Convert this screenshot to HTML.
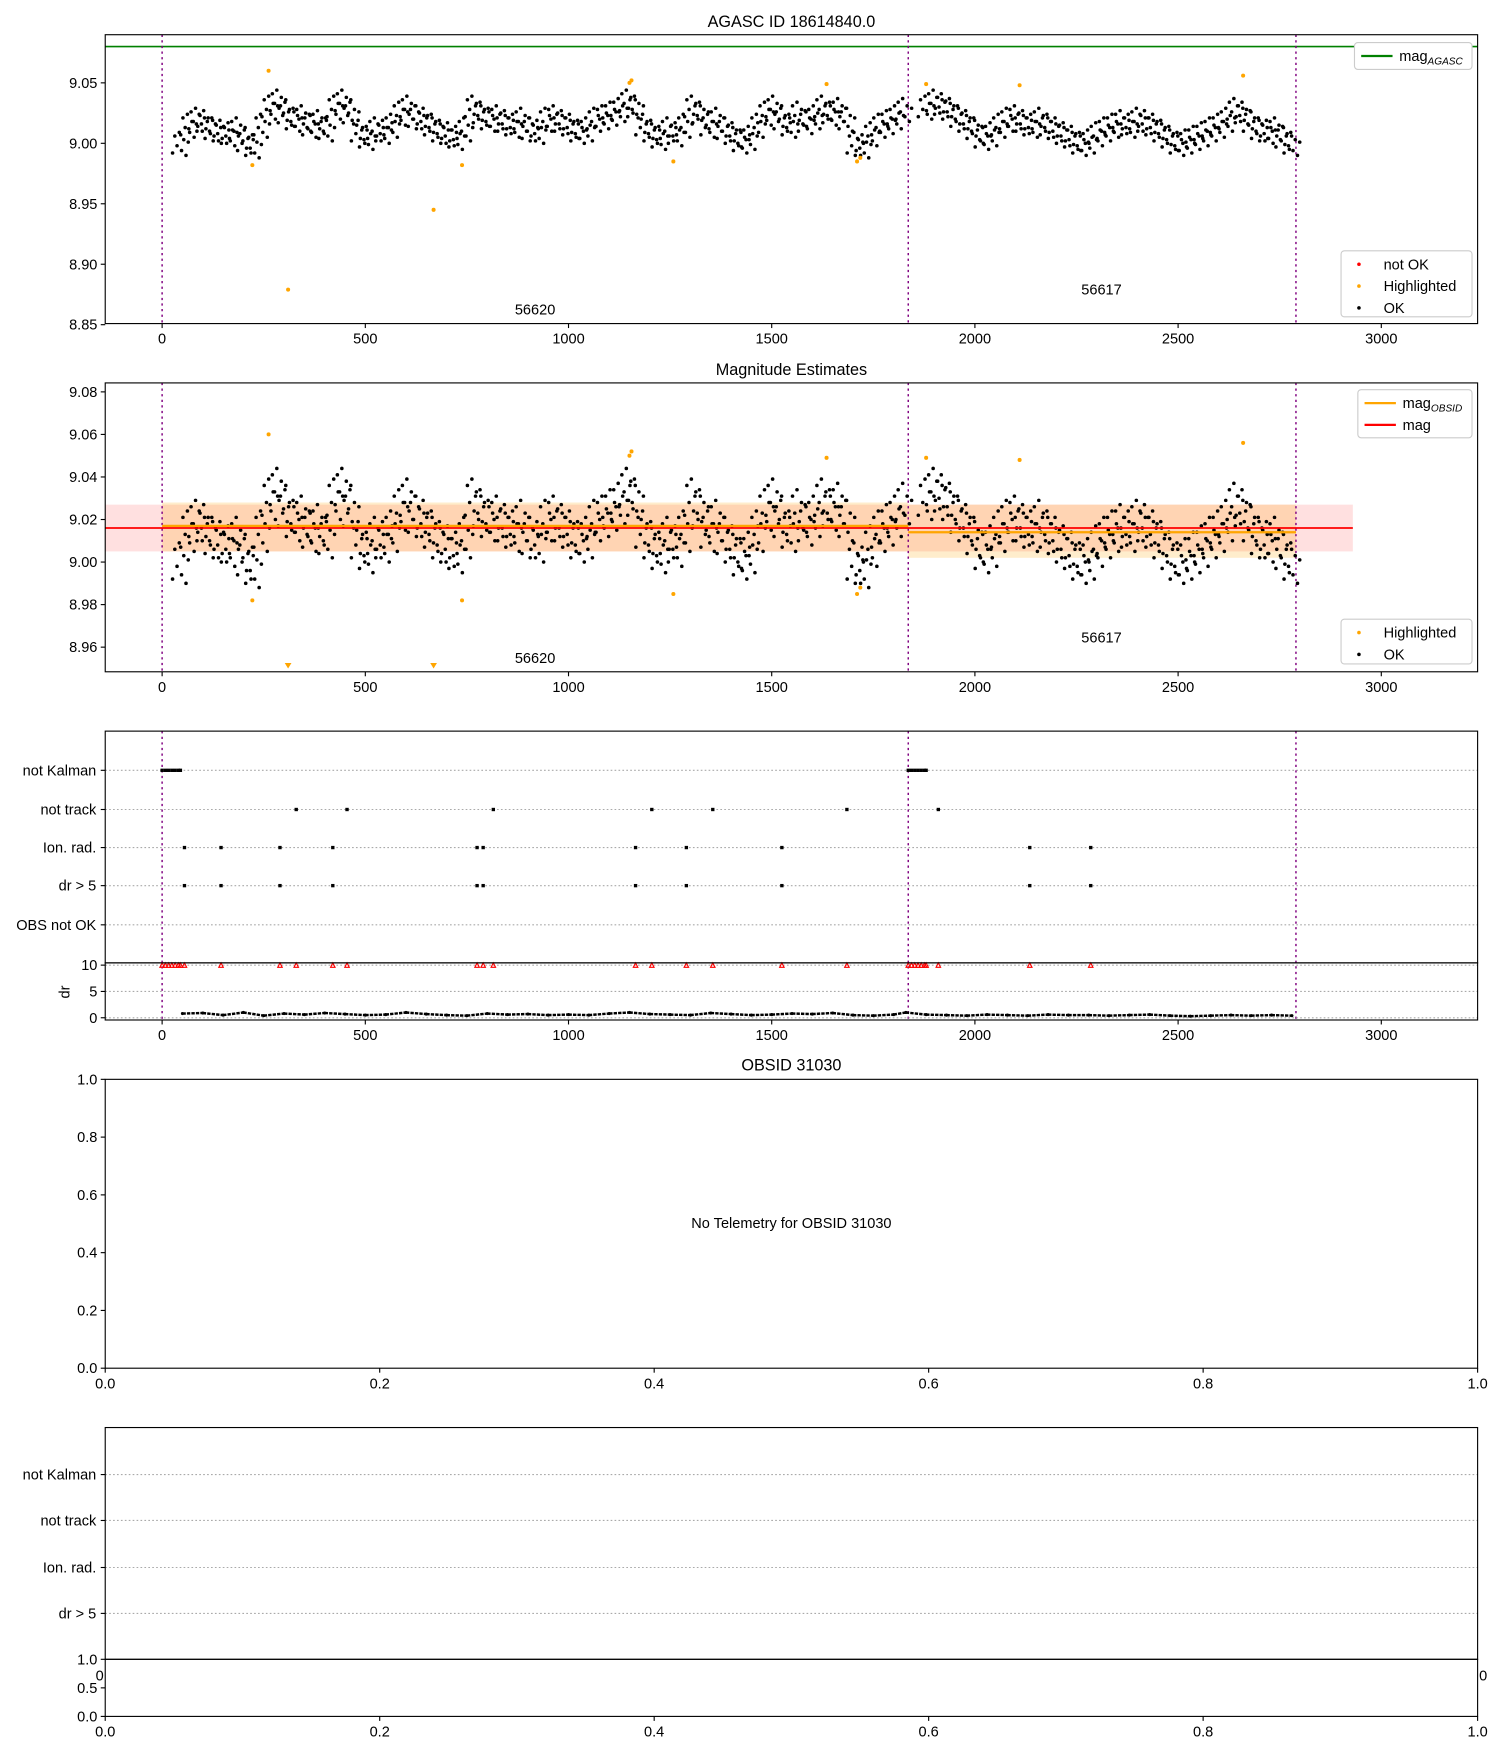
<!DOCTYPE html>
<html><head><meta charset="utf-8"><style>
html,body{margin:0;padding:0;background:#fff}
svg{display:block;font-family:"Liberation Sans","DejaVu Sans",sans-serif}
</style></head><body>
<svg id="chart" xmlns="http://www.w3.org/2000/svg" width="1500" height="1750" viewBox="0 0 1340 1563" preserveAspectRatio="none"></svg>
<script>
// ---- data ----
const obs1X = [45,65,85,105,125,145,165,185,205,225,245,265,285,305,325,345,365,385,405,425,445,465,485,505,525,545,565,585,605,625,645,665,685,705,725,745,765,785,805,825,845,865,885,905,925,945,965,985,1005,1025,1045,1065,1085,1105,1125,1145,1165,1185,1205,1225,1245,1265,1285,1305,1325,1345,1365,1385,1405,1425,1445,1465,1485,1505,1525,1545,1565,1585,1605,1625,1645,1665,1685,1705,1725,1745,1765,1785,1805,1825];
const obs1Mag = [9.000,9.015,9.020,9.018,9.012,9.010,9.008,9.012,9.002,8.998,9.015,9.030,9.035,9.025,9.020,9.022,9.015,9.018,9.012,9.030,9.035,9.025,9.010,9.005,9.012,9.010,9.015,9.025,9.030,9.022,9.020,9.015,9.010,9.008,9.005,9.012,9.030,9.025,9.020,9.022,9.018,9.015,9.020,9.012,9.010,9.020,9.022,9.018,9.015,9.010,9.012,9.020,9.022,9.025,9.028,9.035,9.030,9.015,9.010,9.005,9.012,9.008,9.015,9.030,9.025,9.015,9.020,9.012,9.008,9.002,9.005,9.015,9.025,9.030,9.020,9.015,9.025,9.018,9.022,9.030,9.025,9.028,9.020,9.000,8.998,9.008,9.015,9.018,9.022,9.028];
const obs2X = [1880,1900,1920,1940,1960,1980,2000,2020,2040,2060,2080,2100,2120,2140,2160,2180,2200,2220,2240,2260,2280,2300,2320,2340,2360,2380,2400,2420,2440,2460,2480,2500,2520,2540,2560,2580,2600,2620,2640,2660,2680,2700,2720,2740,2760,2780];
const obs2Mag = [9.030,9.035,9.032,9.028,9.022,9.018,9.012,9.005,9.008,9.015,9.020,9.022,9.018,9.015,9.020,9.015,9.012,9.008,9.005,9.000,9.002,9.008,9.012,9.015,9.018,9.015,9.020,9.018,9.015,9.010,9.005,9.000,9.002,9.005,9.008,9.012,9.015,9.020,9.028,9.025,9.018,9.012,9.010,9.012,9.005,9.000];
const hlX = [262,222,310,668,738,1150,1155,1258,1635,1710,1718,1880,2110,2660];
const hlMag = [9.060,8.982,8.879,8.945,8.982,9.050,9.052,8.985,9.049,8.985,8.988,9.049,9.048,9.056];
const obsStarts = [0,1836];
const obsEnds = [1836,2790];
const obsIds = ["56620","56617"];
const obsMean = [9.017,9.014];
const obsLo = [9.005,9.002];
const obsHi = [9.028,9.027];
const magAgasc = 9.08;
const magAll = 9.016, magAllLo = 9.005, magAllHi = 9.027;
const notKalmanX = [0,8,16,24,32,40,45,1836,1844,1852,1860,1868,1876,1880];
const notTrackX = [330,455,815,1205,1355,1685,1910];
const ionRadX = [55,145,290,420,775,790,1165,1290,1525,2135,2285];
const drX = [50,100,150,200,250,300,350,400,450,500,550,600,650,700,750,800,850,900,950,1000,1050,1100,1150,1200,1250,1300,1350,1400,1450,1500,1550,1600,1650,1700,1750,1800,1830,1880,1930,1980,2030,2080,2130,2180,2230,2280,2330,2380,2430,2480,2530,2580,2630,2680,2730,2780];
const drVal = [0.8,0.9,0.5,1.0,0.4,0.8,0.6,0.9,0.7,0.5,0.6,1.0,0.7,0.5,0.4,0.8,0.6,0.7,0.5,0.6,0.5,0.8,1.0,0.7,0.6,0.5,0.9,0.7,0.5,0.6,0.8,0.7,0.9,0.5,0.4,0.6,1.0,0.6,0.5,0.4,0.6,0.5,0.4,0.6,0.5,0.5,0.4,0.5,0.6,0.4,0.3,0.4,0.5,0.4,0.5,0.4];
const xTicks = [0,500,1000,1500,2000,2500,3000];
const unitTicks = [0,0.2,0.4,0.6,0.8,1.0];
const flagRows = ["not Kalman","not track","Ion. rad.","dr > 5","OBS not OK"];

// ---- helpers ----
const NS = "http://www.w3.org/2000/svg";
const svg = document.getElementById("chart");
function el(tag, attrs, parent){const e=document.createElementNS(NS,tag);for(const k in attrs)e.setAttribute(k,attrs[k]);(parent||svg).appendChild(e);return e;}
function txt(s,x,y,anchor,size,parent){const t=el("text",{x:x,y:y,"text-anchor":anchor||"middle","font-size":size||13,fill:"#000"},parent);t.textContent=s;return t;}
const X0=94, X1=1320, XMIN=-140, XMAX=3237;
const sx = v => X0 + (v-XMIN)/(XMAX-XMIN)*(X1-X0);
function linY(v0,v1,p0,p1){return v => p0 + (v-v0)/(v1-v0)*(p1-p0);}
function frame(y0,y1,name){const r=el("rect",{x:X0,y:y0,width:X1-X0,height:y1-y0,fill:"none",stroke:"#000","stroke-width":1});return r;}
function xAxis(yb,name){const g=el("g",{});
  xTicks.forEach(t=>{el("line",{x1:sx(t),x2:sx(t),y1:yb,y2:yb+4,stroke:"#000"},g);txt(String(t),sx(t),yb+18,"middle",13,g);});}
function yAxis(ticks,sy,labels,name){const g=el("g",{});
  ticks.forEach((t,i)=>{el("line",{x1:X0-4,x2:X0,y1:sy(t),y2:sy(t),stroke:"#000"},g);txt(labels[i],X0-7,sy(t)+4.5,"end",13,g);});}
function vlines(y0,y1){const g=el("g",{});
  [obsStarts[0],obsStarts[1],obsEnds[1]].forEach(v=>el("line",{x1:sx(v),x2:sx(v),y1:y0,y2:y1,stroke:"#800080","stroke-width":1.3,"stroke-dasharray":"2,3"},g));}
const jdx=[-7,-5,-3,-1,1,3,5,7], jdm=[-0.008,0.006,-0.002,0.009,-0.006,0.003,-0.010,0.001];
function cloud(sy,g){
  [[obs1X,obs1Mag],[obs2X,obs2Mag]].forEach(([xs,ms])=>{xs.forEach((x,i)=>{jdx.forEach((d,k)=>{
    const c=el("circle",{cx:sx(x)+d,cy:sy(ms[i]+jdm[k]),r:1.6,fill:"#000"},g);
    });});});
}
function legend(x,y,w,h,items,name){const g=el("g",{});
  el("rect",{x:x,y:y,width:w,height:h,fill:"#fff",stroke:"#ccc",rx:3},g);
  items.forEach((it,i)=>{const yy=y+12+i*19.5;
    if(it.type==="line")el("line",{x1:x+6,x2:x+34,y1:yy,y2:yy,stroke:it.color,"stroke-width":2},g);
    else el("circle",{cx:x+16,cy:yy,r:1.6,fill:it.color},g);
    const t=txt("",x+(it.type==="line"?40:38),yy+4.5,"start",13,g);t.innerHTML=it.label;});}

// ---- Panel 1 ----
txt("AGASC ID 18614840.0",707,24,"middle",14.5);
const sy1 = linY(9.0,9.05,128,74);
el("line",{x1:X0,x2:X1,y1:sy1(magAgasc),y2:sy1(magAgasc),stroke:"#008000","stroke-width":1.5});
vlines(31,289);
const g1=el("g",{});
cloud(sy1,g1);
hlX.forEach((x,i)=>{const c=el("circle",{cx:sx(x),cy:sy1(hlMag[i]),r:1.8,fill:"orange"});});
txt(obsIds[0],478,281);
txt(obsIds[1],984,263);
frame(31,289,'agasc-axes');
yAxis([8.85,8.90,8.95,9.00,9.05],sy1,["8.85","8.90","8.95","9.00","9.05"],'y-axis-top');
xAxis(289,'x-axis-top');
legend(1210,38,105,24,[{type:"line",color:"#008000",label:'mag<tspan font-size="9" dy="3" font-style="italic">AGASC</tspan>'}],'legend-agasc');
legend(1198,224,117,59,[{type:"dot",color:"red",label:"not OK"},{type:"dot",color:"orange",label:"Highlighted"},{type:"dot",color:"#000",label:"OK"}],'legend-points-top');

// ---- Panel 2 ----
txt("Magnitude Estimates",707,335,"middle",14.5);
const sy2 = linY(9.0,9.02,502,464);
const bandAll=el("rect",{x:X0,y:sy2(magAllHi),width:sx(2930)-X0,height:sy2(magAllLo)-sy2(magAllHi),fill:"rgba(255,0,0,0.12)"});
obsStarts.forEach((s,i)=>{const r=el("rect",{x:sx(s),y:sy2(obsHi[i]),width:sx(obsEnds[i])-sx(s),height:sy2(obsLo[i])-sy2(obsHi[i]),fill:"rgba(255,165,0,0.2)"});});
vlines(342,600);
const g2=el("g",{});
cloud(sy2,g2);
hlX.forEach((x,i)=>{
  if(hlMag[i]<8.951){const y=sy2(8.951);const p=el("path",{d:`M${sx(x)-3},${y-3}L${sx(x)+3},${y-3}L${sx(x)},${y+2}Z`,fill:"orange"});}
  else{const c=el("circle",{cx:sx(x),cy:sy2(hlMag[i]),r:1.8,fill:"orange"});}});
obsStarts.forEach((s,i)=>{const l=el("line",{x1:sx(s),x2:sx(obsEnds[i]),y1:sy2(obsMean[i]),y2:sy2(obsMean[i]),stroke:"orange","stroke-width":2});});
el("line",{x1:X0,x2:sx(2930),y1:sy2(magAll),y2:sy2(magAll),stroke:"red","stroke-width":1.5});
txt(obsIds[0],478,592);
txt(obsIds[1],984,574);
frame(342,600,'magnitude-axes');
yAxis([8.96,8.98,9.00,9.02,9.04,9.06,9.08],sy2,["8.96","8.98","9.00","9.02","9.04","9.06","9.08"],'y-axis-mag');
xAxis(600,'x-axis-mag');
legend(1213,348,102,43,[{type:"line",color:"orange",label:'mag<tspan font-size="9" dy="3" font-style="italic">OBSID</tspan>'},{type:"line",color:"red",label:"mag"}],'legend-mag');
legend(1198,553,117,40,[{type:"dot",color:"orange",label:"Highlighted"},{type:"dot",color:"#000",label:"OK"}],'legend-points-mag');

// ---- Panel 3 (flags) ----
function flagPanel(y0,rowYs,labels,name){
  const g=el("g",{});
  rowYs.forEach((y,i)=>{el("line",{x1:X0,x2:X1,y1:y,y2:y,stroke:"#aaa","stroke-dasharray":"1.5,2"},g);el("line",{x1:X0-4,x2:X0,y1:y,y2:y,stroke:"#000"},g);txt(labels[i],X0-8,y+4.5,"end",13,g);});
  return g;}
const rows3=[688,723,757,791,826];
const gf=flagPanel(653,rows3,flagRows,'flags-panel');
vlines(653,911);
function flagMarks(xs,y,name){xs.forEach(x=>{const r=el("rect",{x:sx(x)-1.5,y:y-1.5,width:3,height:3,fill:"#000"});});}
flagMarks(notKalmanX,rows3[0],'not-kalman-mark');
flagMarks(notTrackX,rows3[1],'not-track-mark');
flagMarks(ionRadX,rows3[2],'ion-rad-mark');
flagMarks(ionRadX,rows3[3],'dr-gt-5-mark');
frame(653,860,'flags-axes');
const sy3=linY(0,10,909,862);
[0,5,10].forEach(t=>el("line",{x1:X0,x2:X1,y1:sy3(t),y2:sy3(t),stroke:"#aaa","stroke-dasharray":"1.5,2"}));
notKalmanX.concat(notTrackX,ionRadX).forEach(x=>{const r=el("path",{d:`M${sx(x)-2},${sy3(10)+2}L${sx(x)+2},${sy3(10)+2}L${sx(x)},${sy3(10)-2}Z`,fill:"none",stroke:"red","stroke-width":1});});
drX.forEach((x,i)=>{
  const d=el("circle",{cx:sx(x),cy:sy3(drVal[i]),r:1.4,fill:"#000"});
  if(i+1<drX.length && drX[i+1]-x<=60){const l=el("line",{x1:sx(x),y1:sy3(drVal[i]),x2:sx(drX[i+1]),y2:sy3(drVal[i+1]),stroke:"#000","stroke-width":2.2,"stroke-dasharray":"3,1"});}
});
frame(860,911,'dr-axes');
yAxis([0,5,10],sy3,["0","5","10"],'y-axis-dr');
const drl=txt("dr",0,0,"middle",13);drl.setAttribute("transform","translate(62,886) rotate(-90)");
xAxis(911,'x-axis-flags');

// ---- Panel 4 ----
txt("OBSID 31030",707,956,"middle",14.5);
frame(964,1222,'obsid-axes');
const sy4=linY(0,1,1222,964);
const sux=v=>X0+v*(X1-X0);
yAxis(unitTicks,sy4,unitTicks.map(t=>t.toFixed(1)),'y-axis-obsid');
const gx4=el("g",{});
unitTicks.forEach(t=>{el("line",{x1:sux(t),x2:sux(t),y1:1222,y2:1226,stroke:"#000"},gx4);txt(t.toFixed(1),sux(t),1240,"middle",13,gx4);});
txt("No Telemetry for OBSID 31030",707,1097);

// ---- Panel 5 ----
const rows5=[1317,1358,1400,1441];
flagPanel(1275,rows5,flagRows.slice(0,4),'flags-panel-empty');
txt("0",89,1501);
txt("0",1325,1501);
const bg5=el("rect",{x:X0,y:1482,width:X1-X0,height:51,fill:"#fff"});
frame(1275,1482,'flags-empty-axes');
frame(1482,1533,'dr-empty-axes');
const sy5=linY(0,1,1533,1482);
yAxis([0,0.5,1.0],sy5,["0.0","0.5","1.0"],'y-axis-dr-empty');
const gx5=el("g",{});
unitTicks.forEach(t=>{el("line",{x1:sux(t),x2:sux(t),y1:1533,y2:1537,stroke:"#000"},gx5);txt(t.toFixed(1),sux(t),1551,"middle",13,gx5);});
</script>
</body></html>
